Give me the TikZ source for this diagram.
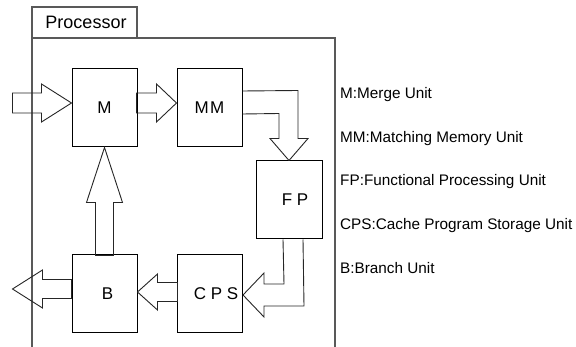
\documentclass[tikz,border=0pt]{standalone}
\usepackage{fontspec}
\setmainfont{Liberation Sans}
\usetikzlibrary{calc}

% block arrow: tip point, rotation, total length, head length, shaft half-width, head half-width
\newcommand\blockarrow[6]{%
  \begin{scope}[shift={(#1)},rotate=#2]
    \draw[barrow] (0,0) -- (-#4,#6) -- (-#4,#5) -- (-#3,#5) -- (-#3,-#5)
      -- (-#4,-#5) -- (-#4,-#6) -- cycle;
  \end{scope}}

\begin{document}
\begin{tikzpicture}[x=1pt,y=-1pt,
  unit/.style={draw=black,line width=1pt,minimum width=65pt,minimum height=78pt,
    inner sep=0pt,font=\fontsize{17}{20}\selectfont},
  barrow/.style={draw=black!85,line width=0.9pt,line join=miter},
  frame/.style={draw=black!65,line width=1.2pt},
  legend/.style={anchor=west,inner sep=0pt,font=\fontsize{15.3}{18}\selectfont}]
\useasboundingbox (0,0) rectangle (576,347);

% processor enclosure with its tab
\draw[frame] (32,347) -- (32,38) -- (335,38) -- (335,347);
\node[frame,draw,minimum width=105pt,minimum height=31pt,inner sep=0pt,
  font=\fontsize{18}{21}\selectfont] (tab) at (84.5,22.5) {\hspace*{3pt}Processor};

% functional units
\node[unit] (M)   at (104.5,108) {M};
\node[unit] (MM)  at (209.5,108) {M\kern1.5pt M};
\node[unit,minimum width=66pt] (FP) at (289,200) {};
\node[unit] (CPS) at (210,293.5) {};
\node[unit] (B)   at (104.5,293.5) {};
\node[font=\fontsize{17}{20}\selectfont,inner sep=0pt] (FPt)  at ($(FP)+(6,0)$)  {F P};
\node[font=\fontsize{17}{20}\selectfont,inner sep=0pt] (CPSt) at ($(CPS)+(6,0.5)$) {C P S};
\node[font=\fontsize{17}{20}\selectfont,inner sep=0pt] (Bt)   at ($(B)+(3,0)$)   {B};

% straight block arrows
\blockarrow{$(M.west)+(0,-5)$}{0}{59}{30}{10}{19}
\blockarrow{$(MM.west)+(0,-5)$}{0}{40}{20}{10}{19}
\blockarrow{$(B.east)+(0,-1.5)$}{180}{40}{20}{9.5}{18}
\blockarrow{$(B.west)+(-59,-4.5)$}{180}{59}{30}{9.5}{19}
\blockarrow{M.south}{90}{108}{55}{9}{18}

% bent arrow MM -> FP
\draw[barrow] (FP.north) -- ++(19,-22) -- ++(-10,0) -- ++(0,-48) -- (MM.east |- 0,91);
\draw[barrow] (FP.north) -- ++(-19,-22) -- ++(9,0) -- ++(0,-25) -- (MM.east |- 0,114);

% bent arrow FP -> CPS
\draw[barrow] ($(CPS.east)+(0,1.5)$) coordinate (t) -- ++(21,-22) -- ++(0,11) -- ++(20,0)
  -- (FP.south -| 283,0);
\draw[barrow] (t) -- ++(21,22) -- ++(0,-11) -- ++(40,0) -- (FP.south -| 303,0);

% legend
\node[legend] (l1) at (340,95)  {M:Merge Unit};
\node[legend] (l2) at (340,139) {MM:Matching Memory Unit};
\node[legend] (l3) at (340,182) {FP:Functional Processing Unit};
\node[legend] (l4) at (340,226) {CPS:Cache Program Storage Unit};
\node[legend] (l5) at (340,268) {B:Branch Unit};
\end{tikzpicture}
\end{document}
